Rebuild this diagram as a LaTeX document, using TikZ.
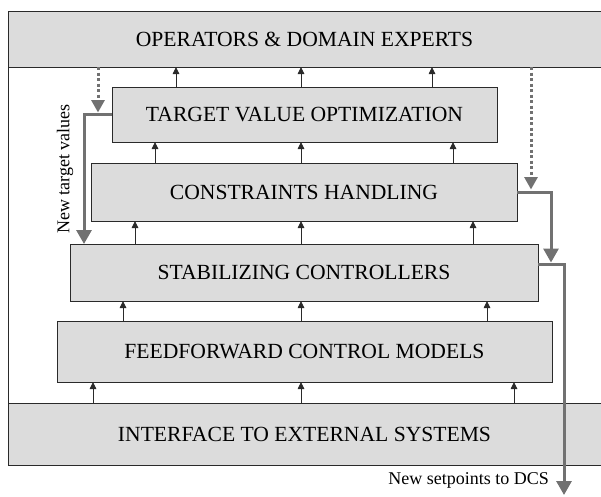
\documentclass[tikz,border=0pt]{standalone}
\usepackage{fontspec}
\setmainfont{Liberation Serif}
\usetikzlibrary{arrows.meta}
\definecolor{boxfill}{HTML}{DCDCDC}
\definecolor{arrgray}{HTML}{717171}
\definecolor{edgecol}{HTML}{2A2A2A}
\begin{document}
\begin{tikzpicture}[x=1pt,y=-1pt,
  box/.style={draw=edgecol, line width=1pt, fill=boxfill, inner sep=0pt, outer sep=0pt,
    font=\fontsize{21.6}{26}\selectfont},
  band/.style={fill=boxfill, inner sep=0pt, outer sep=0pt, font=\fontsize{21.6}{26}\selectfont},
  bandedge/.style={draw=edgecol, line width=1pt},
  smallarr/.style={line width=0.9pt, draw=edgecol, -{Triangle[length=7pt,width=6.5pt]}},
  grayarr/.style={line width=3pt, draw=arrgray, -{Triangle[length=14pt,width=15pt]}},
  dotarr/.style={line width=3pt, draw=arrgray, -{Triangle[length=12.5pt,width=13pt]}, dash pattern=on 3pt off 2.5pt},
  lbl/.style={font=\fontsize{18}{22}\selectfont, inner sep=0pt, text=black}]
\useasboundingbox (0,0) rectangle (601,496);

% bands
\node[band, minimum width=593pt, minimum height=56pt] (top) at (304.5,39) {OPERATORS \& DOMAIN EXPERTS};
\node[band, minimum width=593pt, minimum height=62pt] (iface) at (304.5,434) {INTERFACE TO EXTERNAL SYSTEMS};
\draw[bandedge] (top.north east) -- (top.north west) -- (iface.south west) -- (iface.south east);
\draw[bandedge] (top.south west) -- (top.south east);
\draw[bandedge] (iface.north west) -- (iface.north east);

% inner boxes
\node[box, minimum width=385pt, minimum height=55pt] (tvo) at (304.5,114.5) {TARGET VALUE OPTIMIZATION};
\node[box, minimum width=426pt, minimum height=58pt] (ch) at (304,192) {CONSTRAINTS HANDLING};
\node[box, minimum width=468pt, minimum height=57pt] (sc) at (304,272.5) {STABILIZING CONTROLLERS};
\node[box, minimum width=495pt, minimum height=61pt] (ff) at (304.5,351.5) {FEEDFORWARD CONTROL MODELS};

% small black arrows
\foreach \lo/\hi/\a/\b/\c in {tvo/top/176/301/432, ch/tvo/155/301/453, sc/ch/135/301/473,
    ff/sc/123/301/487, iface/ff/93/301/514}{
  \foreach \xx in {\a,\b,\c}{
    \coordinate (k) at (\xx,0);
    \draw[smallarr] (\lo.north -| k) -- (\hi.south -| k);
  }
}

% gray arrows, left
\coordinate (lj) at (98,112.5);
\coordinate (lk) at (84,0);
\draw[dotarr] (top.south -| lj) -- (lj);
\draw[grayarr] (tvo.west) -| (sc.north -| lk);

% gray arrows, right
\coordinate (rj) at (531,189.5);
\coordinate (rk) at (551,262.5);
\coordinate (ro) at (564,264);
\coordinate (dcs) at (564,495);
\draw[dotarr] (top.south -| rj) -- (rj);
\draw[grayarr] (ch.east) -| (rk);
\draw[grayarr] (sc.east |- ro) -| (dcs);

% labels
\node[lbl, rotate=90] (ntv) at (65,169) {New target values};
\node[lbl, anchor=east] (nsp) at (549,480) {New setpoints to DCS};
\end{tikzpicture}
\end{document}
